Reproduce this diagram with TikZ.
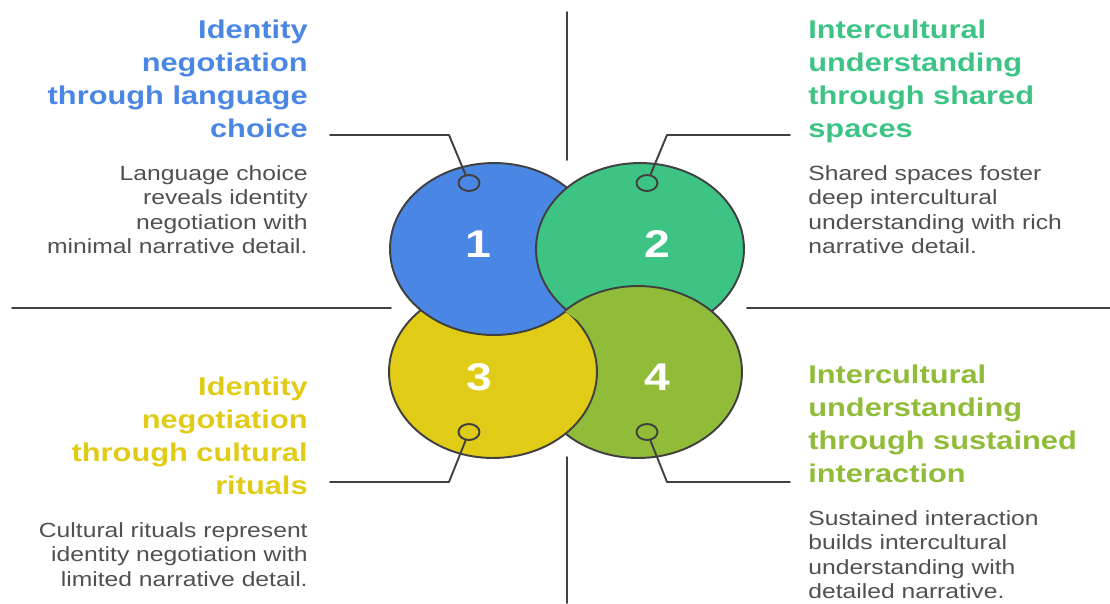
\documentclass[tikz,border=0pt]{standalone}
\usepackage{fontspec}
\setmainfont{Liberation Sans}[FakeStretch=1.2]
\usetikzlibrary{shapes.geometric}
\definecolor{cA}{HTML}{4A86E4}
\definecolor{cB}{HTML}{3DC485}
\definecolor{cC}{HTML}{E0CB16}
\definecolor{cD}{HTML}{90BC3A}
\definecolor{edge}{HTML}{404040}
\definecolor{txtgray}{HTML}{505050}
\tikzset{
  ttl/.style={font=\fontsize{14.6}{18.7}\selectfont\bfseries,inner sep=0pt},
  txt/.style={font=\fontsize{11.7}{13.9}\selectfont,text=txtgray,inner sep=0pt},
  num/.style={font=\fontsize{22}{26}\selectfont\bfseries,text=white},
  bub/.style={draw=edge,line width=1.1pt},
  dot/.style={ellipse,draw=edge,line width=1.1pt,minimum width=0.42cm,minimum height=0.32cm,inner sep=0pt},
  link/.style={draw=edge,line width=1.1pt}
}
\begin{document}
\begin{tikzpicture}[x=0.02cm,y=-0.02cm,line join=round,line cap=round]
	\useasboundingbox (0,0) rectangle (1110,603);
	\def\rx{2.08cm}
	\def\ry{1.72cm}
	% dividers
	\draw[link] (567,12) -- (567,160);
	\draw[link] (567,457) -- (567,603);
	\draw[link] (12,308) -- (391,308);
	\draw[link] (747,308) -- (1110,308);
	% the four bubbles, each one over the next
	\draw[bub,fill=cD] (638,372) ellipse [x radius=\rx,y radius=\ry];
	\draw[bub,fill=cC] (493,372) ellipse [x radius=\rx,y radius=\ry];
	\draw[bub,fill=cA] (494,249) ellipse [x radius=\rx,y radius=\ry];
	\draw[bub,fill=cB] (640,249) ellipse [x radius=\rx,y radius=\ry];
	\begin{scope}
		\clip (640,249) ellipse [x radius=2.12cm,y radius=1.76cm];
		\draw[bub,fill=cD] (638,372) ellipse [x radius=\rx,y radius=\ry];
	\end{scope}
	\node[num] (n1) at (478,244) {1};
	\node[num] (n2) at (657,244) {2};
	\node[num] (n3) at (479,377) {3};
	\node[num] (n4) at (657,377) {4};
	\node[dot,fill=cA] (d1) at (469,183) {};
	\node[dot,fill=cB] (d2) at (647,183) {};
	\node[dot,fill=cC] (d3) at (469,432) {};
	\node[dot,fill=cD] (d4) at (647,432) {};
	% texts
	\node[ttl,text=cA,align=right,anchor=north east] (h1) at (308,20) {Identity\\negotiation\\through language\\choice};
	\node[txt,align=right,anchor=north east] (b1) at (308,165) {Language choice\\reveals identity\\negotiation with\\minimal narrative detail.};
	\node[ttl,text=cB,align=left,anchor=north west] (h2) at (808,20) {Intercultural\\understanding\\through shared\\spaces};
	\node[txt,align=left,anchor=north west] (b2) at (808,165) {Shared spaces foster\\deep intercultural\\understanding with rich\\narrative detail.};
	\node[ttl,text=cC,align=right,anchor=north east] (h3) at (308,377) {Identity\\negotiation\\through cultural\\rituals};
	\node[txt,align=right,anchor=north east] (b3) at (308,522) {Cultural rituals represent\\identity negotiation with\\limited narrative detail.};
	\node[ttl,text=cD,align=left,anchor=north west] (h4) at (808,365) {Intercultural\\understanding\\through sustained\\interaction};
	\node[txt,align=left,anchor=north west] (b4) at (808,510) {Sustained interaction\\builds intercultural\\understanding with\\detailed narrative.};
	% leaders
	\coordinate (s1) at (330,135);
	\coordinate (k1) at (449,135);
	\coordinate (s2) at (790,135);
	\coordinate (k2) at (667,135);
	\coordinate (s3) at (330,482);
	\coordinate (k3) at (449,482);
	\coordinate (s4) at (790,482);
	\coordinate (k4) at (667,482);
	\draw[link] (s1) -- (k1) -- (d1);
	\draw[link] (s2) -- (k2) -- (d2);
	\draw[link] (s3) -- (k3) -- (d3);
	\draw[link] (s4) -- (k4) -- (d4);
\end{tikzpicture}
\end{document}
